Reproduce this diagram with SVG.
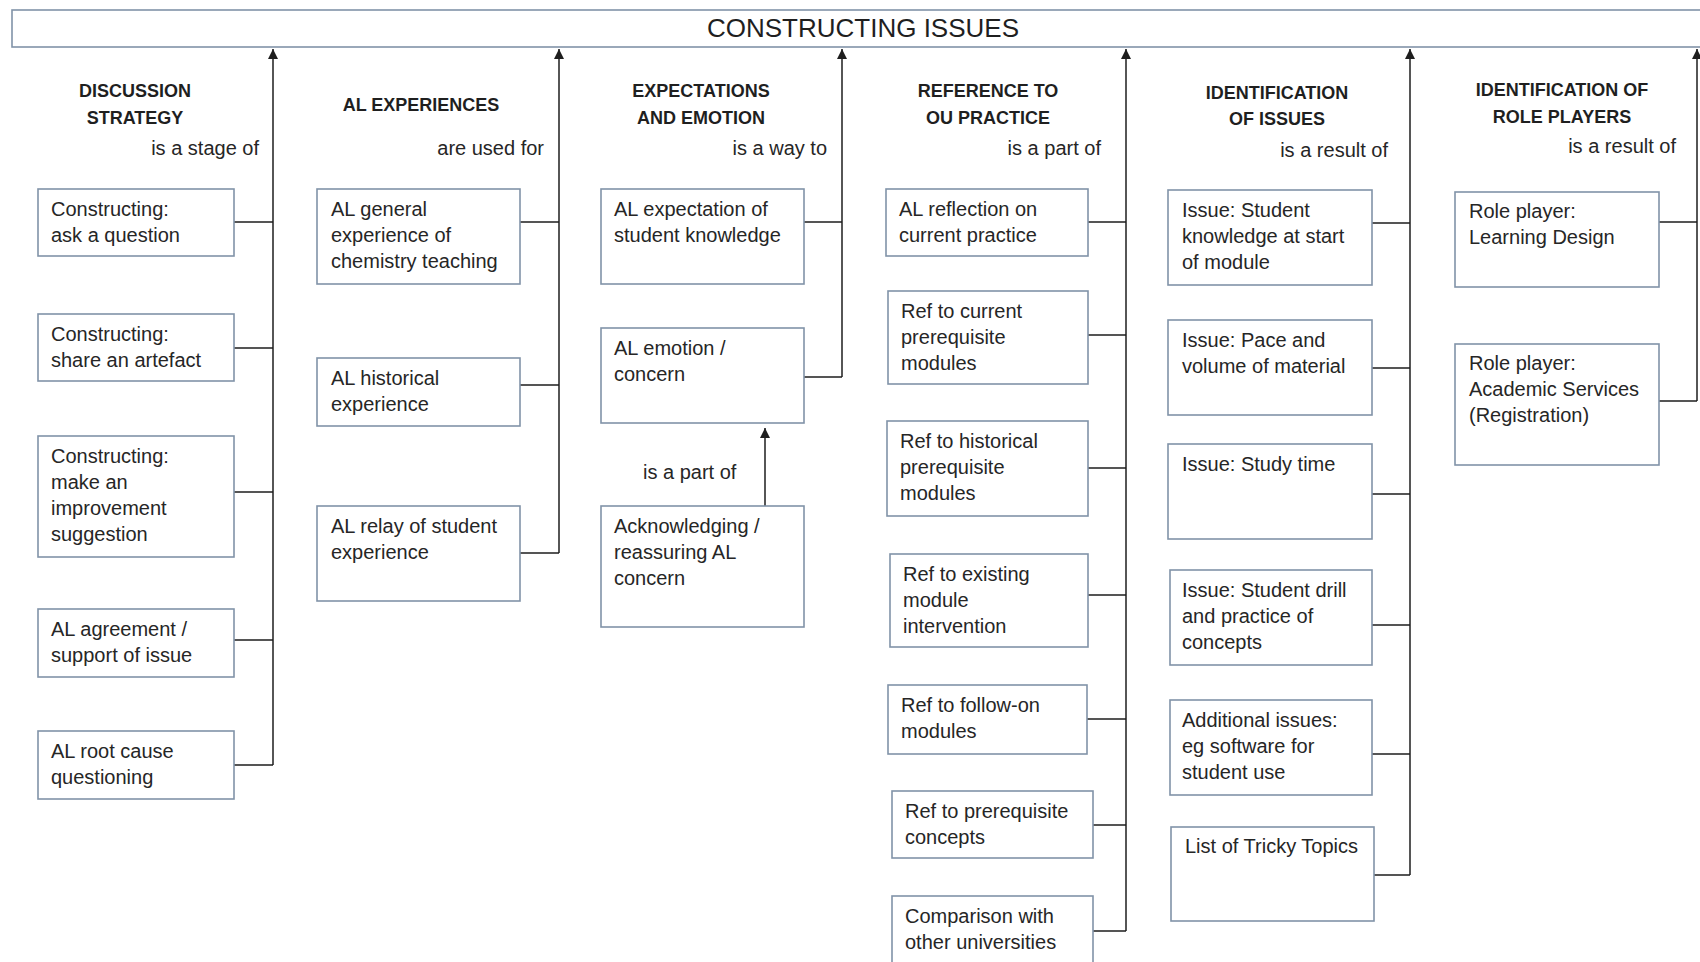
<svg xmlns="http://www.w3.org/2000/svg" width="1700" height="962" viewBox="0 0 1700 962">
  <style>
    .box { fill: #ffffff; stroke: #8193a8; stroke-width: 1.6; }
    .t { font-family: "Liberation Sans", Arial, sans-serif; font-size: 20px; fill: #262626; }
    .hd { font-family: "Liberation Sans", Arial, sans-serif; font-size: 18px; font-weight: bold; fill: #1f1f1f; text-anchor: middle; }
    .rel { font-family: "Liberation Sans", Arial, sans-serif; font-size: 20px; fill: #262626; text-anchor: end; }
    .ttl { font-family: "Liberation Sans", Arial, sans-serif; font-size: 26px; fill: #1f1f1f; text-anchor: middle; }
    .ln { fill: none; stroke: #1e1e1e; stroke-width: 1.5; }
  </style>
  <defs>
    <marker id="ah" viewBox="0 0 10 10" refX="10" refY="5" markerWidth="10" markerHeight="10" markerUnits="userSpaceOnUse" orient="auto">
      <path d="M0,0 L10,5 L0,10 z" fill="#1e1e1e"/>
    </marker>
  </defs>
  <rect width="1700" height="962" fill="#ffffff"/>

  <!-- top banner -->
  <g id="title">
    <rect class="box" x="12" y="10" width="1710" height="37"/>
    <text class="ttl" x="863" y="37">CONSTRUCTING ISSUES</text>
  </g>

  <!-- column headings and relation labels -->
  <g id="headings">
    <text class="hd" x="135" y="97">DISCUSSION</text>
    <text class="hd" x="135" y="124">STRATEGY</text>
    <text class="rel" x="259" y="155">is a stage of</text>

    <text class="hd" x="421" y="111">AL EXPERIENCES</text>
    <text class="rel" x="544" y="155">are used for</text>

    <text class="hd" x="701" y="97">EXPECTATIONS</text>
    <text class="hd" x="701" y="124">AND EMOTION</text>
    <text class="rel" x="827" y="155">is a way to</text>

    <text class="hd" x="988" y="97">REFERENCE TO</text>
    <text class="hd" x="988" y="124">OU PRACTICE</text>
    <text class="rel" x="1101" y="155">is a part of</text>

    <text class="hd" x="1277" y="99">IDENTIFICATION</text>
    <text class="hd" x="1277" y="125">OF ISSUES</text>
    <text class="rel" x="1388" y="157">is a result of</text>

    <text class="hd" x="1562" y="96">IDENTIFICATION OF</text>
    <text class="hd" x="1562" y="123">ROLE PLAYERS</text>
    <text class="rel" x="1676" y="153">is a result of</text>

    <text class="t" x="643" y="479">is a part of</text>
  </g>

  <!-- connectors -->
  <g id="connectors">
    <path class="ln" d="M273,765 V49" marker-end="url(#ah)"/>
    <path class="ln" d="M234,222 H273 M234,348 H273 M234,492 H273 M234,640 H273 M234,765 H273"/>

    <path class="ln" d="M559,553 V49" marker-end="url(#ah)"/>
    <path class="ln" d="M520,222 H559 M520,385 H559 M520,553 H559"/>

    <path class="ln" d="M842,377 V49" marker-end="url(#ah)"/>
    <path class="ln" d="M804,222 H842 M804,377 H842"/>
    <path class="ln" d="M765,506 V428" marker-end="url(#ah)"/>

    <path class="ln" d="M1126,931 V49" marker-end="url(#ah)"/>
    <path class="ln" d="M1088,222 H1126 M1088,335 H1126 M1088,468 H1126 M1088,595 H1126 M1087,719 H1126 M1093,825 H1126 M1093,931 H1126"/>

    <path class="ln" d="M1410,875 V49" marker-end="url(#ah)"/>
    <path class="ln" d="M1372,223 H1410 M1372,368 H1410 M1372,494 H1410 M1372,625 H1410 M1372,754 H1410 M1374,875 H1410"/>

    <path class="ln" d="M1697,401 V49" marker-end="url(#ah)"/>
    <path class="ln" d="M1659,222 H1697 M1659,401 H1697"/>
  </g>

  <!-- DISCUSSION STRATEGY -->
  <g id="ask-question">
    <rect class="box" x="38" y="189" width="196" height="67"/>
    <text class="t" x="51" y="216">Constructing:</text>
    <text class="t" x="51" y="242">ask a question</text>
  </g>
  <g id="share-artefact">
    <rect class="box" x="38" y="314" width="196" height="67"/>
    <text class="t" x="51" y="341">Constructing:</text>
    <text class="t" x="51" y="367">share an artefact</text>
  </g>
  <g id="improvement-suggestion">
    <rect class="box" x="38" y="436" width="196" height="121"/>
    <text class="t" x="51" y="463">Constructing:</text>
    <text class="t" x="51" y="489">make an</text>
    <text class="t" x="51" y="515">improvement</text>
    <text class="t" x="51" y="541">suggestion</text>
  </g>
  <g id="agreement">
    <rect class="box" x="38" y="609" width="196" height="68"/>
    <text class="t" x="51" y="636">AL agreement /</text>
    <text class="t" x="51" y="662">support of issue</text>
  </g>
  <g id="root-cause">
    <rect class="box" x="38" y="731" width="196" height="68"/>
    <text class="t" x="51" y="758">AL root cause</text>
    <text class="t" x="51" y="784">questioning</text>
  </g>

  <!-- AL EXPERIENCES -->
  <g id="general-experience">
    <rect class="box" x="317" y="189" width="203" height="95"/>
    <text class="t" x="331" y="216">AL general</text>
    <text class="t" x="331" y="242">experience of</text>
    <text class="t" x="331" y="268">chemistry teaching</text>
  </g>
  <g id="historical-experience">
    <rect class="box" x="317" y="358" width="203" height="68"/>
    <text class="t" x="331" y="385">AL historical</text>
    <text class="t" x="331" y="411">experience</text>
  </g>
  <g id="relay-experience">
    <rect class="box" x="317" y="506" width="203" height="95"/>
    <text class="t" x="331" y="533">AL relay of student</text>
    <text class="t" x="331" y="559">experience</text>
  </g>

  <!-- EXPECTATIONS AND EMOTION -->
  <g id="expectation">
    <rect class="box" x="601" y="189" width="203" height="95"/>
    <text class="t" x="614" y="216">AL expectation of</text>
    <text class="t" x="614" y="242">student knowledge</text>
  </g>
  <g id="emotion">
    <rect class="box" x="601" y="328" width="203" height="95"/>
    <text class="t" x="614" y="355">AL emotion /</text>
    <text class="t" x="614" y="381">concern</text>
  </g>
  <g id="acknowledging">
    <rect class="box" x="601" y="506" width="203" height="121"/>
    <text class="t" x="614" y="533">Acknowledging /</text>
    <text class="t" x="614" y="559">reassuring AL</text>
    <text class="t" x="614" y="585">concern</text>
  </g>

  <!-- REFERENCE TO OU PRACTICE -->
  <g id="reflection">
    <rect class="box" x="886" y="189" width="202" height="67"/>
    <text class="t" x="899" y="216">AL reflection on</text>
    <text class="t" x="899" y="242">current practice</text>
  </g>
  <g id="current-prereq">
    <rect class="box" x="888" y="291" width="200" height="93"/>
    <text class="t" x="901" y="318">Ref to current</text>
    <text class="t" x="901" y="344">prerequisite</text>
    <text class="t" x="901" y="370">modules</text>
  </g>
  <g id="historical-prereq">
    <rect class="box" x="887" y="421" width="201" height="95"/>
    <text class="t" x="900" y="448">Ref to historical</text>
    <text class="t" x="900" y="474">prerequisite</text>
    <text class="t" x="900" y="500">modules</text>
  </g>
  <g id="existing-intervention">
    <rect class="box" x="890" y="554" width="198" height="93"/>
    <text class="t" x="903" y="581">Ref to existing</text>
    <text class="t" x="903" y="607">module</text>
    <text class="t" x="903" y="633">intervention</text>
  </g>
  <g id="follow-on">
    <rect class="box" x="888" y="685" width="199" height="69"/>
    <text class="t" x="901" y="712">Ref to follow-on</text>
    <text class="t" x="901" y="738">modules</text>
  </g>
  <g id="prereq-concepts">
    <rect class="box" x="892" y="791" width="201" height="67"/>
    <text class="t" x="905" y="818">Ref to prerequisite</text>
    <text class="t" x="905" y="844">concepts</text>
  </g>
  <g id="other-universities">
    <rect class="box" x="892" y="896" width="201" height="80"/>
    <text class="t" x="905" y="923">Comparison with</text>
    <text class="t" x="905" y="949">other universities</text>
  </g>

  <!-- IDENTIFICATION OF ISSUES -->
  <g id="student-knowledge">
    <rect class="box" x="1168" y="190" width="204" height="95"/>
    <text class="t" x="1182" y="217">Issue: Student</text>
    <text class="t" x="1182" y="243">knowledge at start</text>
    <text class="t" x="1182" y="269">of module</text>
  </g>
  <g id="pace-volume">
    <rect class="box" x="1168" y="320" width="204" height="95"/>
    <text class="t" x="1182" y="347">Issue: Pace and</text>
    <text class="t" x="1182" y="373">volume of material</text>
  </g>
  <g id="study-time">
    <rect class="box" x="1168" y="444" width="204" height="95"/>
    <text class="t" x="1182" y="471">Issue: Study time</text>
  </g>
  <g id="drill-practice">
    <rect class="box" x="1170" y="570" width="202" height="95"/>
    <text class="t" x="1182" y="597">Issue: Student drill</text>
    <text class="t" x="1182" y="623">and practice of</text>
    <text class="t" x="1182" y="649">concepts</text>
  </g>
  <g id="additional-issues">
    <rect class="box" x="1170" y="700" width="202" height="95"/>
    <text class="t" x="1182" y="727">Additional issues:</text>
    <text class="t" x="1182" y="753">eg software for</text>
    <text class="t" x="1182" y="779">student use</text>
  </g>
  <g id="tricky-topics">
    <rect class="box" x="1171" y="827" width="203" height="94"/>
    <text class="t" x="1185" y="853">List of Tricky Topics</text>
  </g>

  <!-- IDENTIFICATION OF ROLE PLAYERS -->
  <g id="learning-design">
    <rect class="box" x="1455" y="192" width="204" height="95"/>
    <text class="t" x="1469" y="218">Role player:</text>
    <text class="t" x="1469" y="244">Learning Design</text>
  </g>
  <g id="academic-services">
    <rect class="box" x="1455" y="344" width="204" height="121"/>
    <text class="t" x="1469" y="370">Role player:</text>
    <text class="t" x="1469" y="396">Academic Services</text>
    <text class="t" x="1469" y="422">(Registration)</text>
  </g>
</svg>
